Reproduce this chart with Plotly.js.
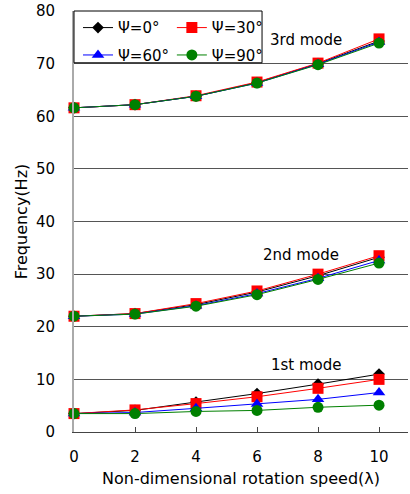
<!DOCTYPE html>
<html>
<head>
<meta charset="utf-8">
<script src="https://cdn.plot.ly/plotly-3.0.1.min.js"></script>
<style>html,body{margin:0;padding:0;background:#fff}#chart{width:410px;height:494px}</style>
</head>
<body>
<div id="chart"></div>
<script>
// rotation speed (lambda)
const speed = [0, 2, 4, 6, 8, 10];
const psiLabels = ['Ψ=0°', 'Ψ=30°', 'Ψ=60°', 'Ψ=90°'];

// 1st mode frequencies (Hz)
const mode1_psi0  = [3.5, 4.1, 5.7, 7.3, 9.1, 11.0];
const mode1_psi30 = [3.5, 4.2, 5.4, 6.7, 8.3, 10.0];
const mode1_psi60 = [3.5, 3.7, 4.5, 5.3, 6.2, 7.5];
const mode1_psi90 = [3.5, 3.5, 3.9, 4.1, 4.7, 5.1];
// 2nd mode frequencies (Hz)
const mode2_psi0  = [22.0, 22.5, 24.2, 26.6, 29.7, 33.2];
const mode2_psi30 = [22.0, 22.5, 24.4, 26.8, 30.0, 33.5];
const mode2_psi60 = [22.0, 22.4, 24.0, 26.3, 29.2, 32.6];
const mode2_psi90 = [22.0, 22.4, 23.9, 26.1, 29.0, 32.1];
// 3rd mode frequencies (Hz)
const mode3_psi0  = [61.6, 62.2, 63.8, 66.4, 70.0, 74.3];
const mode3_psi30 = [61.6, 62.2, 63.9, 66.5, 70.1, 74.7];
const mode3_psi60 = [61.6, 62.2, 63.8, 66.3, 69.9, 74.1];
const mode3_psi90 = [61.6, 62.2, 63.8, 66.3, 69.8, 73.9];

const modeLabels = ['1st mode', '2nd mode', '3rd mode'];

const series = [
  [mode1_psi0, mode2_psi0, mode3_psi0],
  [mode1_psi30, mode2_psi30, mode3_psi30],
  [mode1_psi60, mode2_psi60, mode3_psi60],
  [mode1_psi90, mode2_psi90, mode3_psi90]
];
const colors = ['#000000', '#ff0000', '#0000ff', '#008000'];
const symbols = ['diamond', 'square', 'triangle-up', 'circle'];
const sizes = [9, 11, 11, 11];
const legendIds = ['legend', 'legend2', 'legend3', 'legend4'];

const traces = [];
series.forEach((modes, i) => {
  modes.forEach((vals, m) => {
    traces.push({
      x: speed, y: vals, type: 'scatter', mode: 'lines+markers',
      name: psiLabels[i], legendgroup: 'g' + i, showlegend: m === 0,
      legend: legendIds[i],
      line: {color: colors[i], width: 1},
      marker: {color: colors[i], symbol: symbols[i], size: sizes[i]},
      cliponaxis: false
    });
  });
});

const font = 'DejaVu Sans, sans-serif';
const legendCommon = {
  orientation: 'v', xanchor: 'left', yanchor: 'middle',
  bgcolor: 'rgba(0,0,0,0)', borderwidth: 0,
  font: {family: font, size: 15, color: '#000'},
  itemclick: false
};
const col1 = 0.012, col2 = 0.293, row1 = 0.96, row2 = 0.895;

const layout = {
  width: 410, height: 494,
  margin: {l: 74, r: 2, t: 11, b: 62},
  paper_bgcolor: '#fff', plot_bgcolor: '#fff',
  font: {family: font, size: 15, color: '#000'},
  xaxis: {
    range: [0, 10.95], tickvals: speed, ticktext: speed.map(String),
    ticks: 'inside', ticklen: 5, tickcolor: '#444',
    showgrid: false, zeroline: false,
    showline: true, linecolor: '#444', linewidth: 1,
    tickfont: {family: font, size: 15, color: '#000'},
    ticklabelstandoff: 11,
    title: {text: 'Non-dimensional rotation speed(λ)', font: {family: font, size: 16, color: '#000'}, standoff: 7}
  },
  yaxis: {
    range: [0, 80], dtick: 10, ticks: '',
    showgrid: true, gridcolor: '#555', gridwidth: 1,
    zeroline: false, showline: true, linecolor: '#aaa', linewidth: 2,
    tickfont: {family: font, size: 15, color: '#000'},
    ticklabelstandoff: 14,
    title: {text: 'Frequency(Hz)', font: {family: font, size: 16, color: '#000'}, standoff: 4}
  },
  legend: Object.assign({}, legendCommon, {x: col1, y: row1}),
  legend2: Object.assign({}, legendCommon, {x: col2, y: row1}),
  legend3: Object.assign({}, legendCommon, {x: col1, y: row2}),
  legend4: Object.assign({}, legendCommon, {x: col2, y: row2}),
  shapes: [{
    type: 'rect', xref: 'paper', yref: 'paper',
    x0: 0, x1: 0.563, y0: 0.877, y1: 1,
    line: {color: '#000', width: 1}, fillcolor: 'rgba(0,0,0,0)', layer: 'above'
  }],
  annotations: [
    {x: 7.62, y: 12.7, text: modeLabels[0], showarrow: false, font: {family: font, size: 15, color: '#000'}},
    {x: 7.44, y: 33.6, text: modeLabels[1], showarrow: false, font: {family: font, size: 15, color: '#000'}},
    {x: 7.6, y: 74.4, text: modeLabels[2], showarrow: false, font: {family: font, size: 15, color: '#000'}}
  ],
  showlegend: true
};

Plotly.newPlot('chart', traces, layout, {staticPlot: true, displayModeBar: false});
</script>
</body>
</html>
